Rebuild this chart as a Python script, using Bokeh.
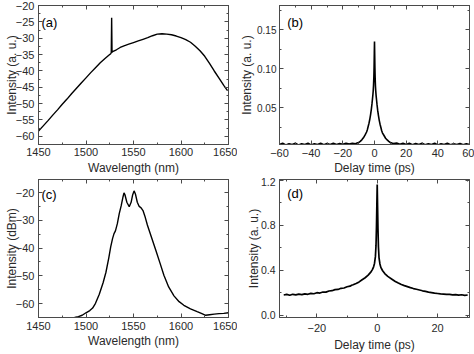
from bokeh.plotting import figure
from bokeh.models import (LinearAxis, SingleIntervalTicker, Range1d, Label,
                          PrintfTickFormatter, CustomLabelingPolicy)
from bokeh.layouts import gridplot
from bokeh.embed import file_html
from bokeh.resources import INLINE

FONT = "Liberation Sans"
AX_COL = "#4a4a4a"
TXT_COL = "#2a2a2a"

# ---------------- data ----------------
# (a) broadband spectrum with narrow spike
wl_a = [1450, 1455, 1460, 1465, 1470, 1475, 1480, 1485, 1490, 1495, 1500,
        1505, 1510, 1515, 1520, 1524, 1526, 1526.6, 1527, 1527.4, 1528, 1532,
        1536, 1540, 1545, 1550, 1555, 1560, 1565, 1570, 1575, 1580, 1585,
        1590, 1595, 1600, 1605, 1610, 1615, 1620, 1625, 1630, 1635, 1640,
        1645, 1648, 1649]
int_a = [-58.4, -56.8, -55.2, -53.5, -51.9, -50.2, -48.6, -46.9, -45.3, -43.7,
         -42.1, -40.5, -39.0, -37.5, -36.2, -35.2, -34.7, -34.4, -23.7, -34.3,
         -34.1, -33.5, -32.8, -32.3, -31.8, -31.3, -30.8, -30.3, -29.8, -29.2,
         -28.7, -28.6, -28.7, -28.9, -29.3, -29.8, -30.4, -31.2, -32.4, -33.8,
         -35.5, -37.7, -40.0, -42.2, -44.4, -45.6, -46.0]

# (b) autocorrelation trace
t_b = [-60, -58, -56, -54, -52, -50, -48, -46, -44, -42, -40, -38, -36, -34,
       -32, -30, -28, -26, -24, -22, -20, -18, -16, -14, -12, -11, -10, -9,
       -8, -7, -6, -5, -4.5, -4, -3.5, -3, -2.5, -2, -1.6, -1.3, -1.0, -0.8,
       -0.6, -0.4, -0.25, -0.12, 0, 0.12, 0.25, 0.4, 0.6, 0.8, 1.0, 1.3, 1.6,
       2, 2.5, 3, 3.5, 4, 4.5, 5, 6, 7, 8, 9, 10, 11, 12, 14, 16, 18, 20, 22,
       24, 26, 28, 30, 32, 34, 36, 38, 40, 42, 44, 46, 48, 50, 52, 54, 56, 58,
       60]
int_b = [0.003, 0.0045, 0.0025, 0.004, 0.003, 0.0045, 0.0025, 0.004, 0.003,
         0.0045, 0.0025, 0.004, 0.003, 0.0045, 0.0028, 0.0042, 0.003, 0.0046,
         0.0031, 0.0044, 0.0033, 0.0047, 0.0035, 0.0045, 0.004, 0.0048,
         0.0055, 0.007, 0.009, 0.0115, 0.015, 0.019, 0.022, 0.026, 0.030,
         0.035, 0.041, 0.048, 0.055, 0.061, 0.067, 0.072, 0.079, 0.090, 0.103,
         0.120, 0.135, 0.119, 0.102, 0.089, 0.078, 0.071, 0.066, 0.060, 0.054,
         0.047, 0.040, 0.034, 0.029, 0.025, 0.021, 0.018, 0.0145, 0.011,
         0.0088, 0.007, 0.0056, 0.0048, 0.0042, 0.0048, 0.0034, 0.0046, 0.003,
         0.0045, 0.0028, 0.0044, 0.003, 0.0045, 0.0026, 0.004, 0.003, 0.0045,
         0.0025, 0.004, 0.003, 0.0045, 0.0027, 0.004, 0.003, 0.0044, 0.0026,
         0.004, 0.003]

# (c) output spectrum
wl_c = [1450, 1470, 1480, 1488, 1492, 1496, 1500, 1504, 1507, 1510, 1514,
        1518, 1521, 1524, 1526, 1528, 1529.5, 1531, 1533, 1535, 1537, 1539,
        1540, 1541, 1543, 1545.5, 1547.5, 1549, 1550.6, 1552, 1554, 1556,
        1558, 1560, 1562, 1564.6, 1569, 1573.4, 1578, 1582, 1587, 1592.6,
        1598, 1603, 1610, 1617, 1622, 1626, 1630, 1635, 1640, 1645, 1650]
int_c = [-65.5, -65.3, -65.2, -65.0, -64.7, -64.2, -63.3, -62.5, -61.6, -59.9,
         -56.6, -52.5, -48.7, -43.5, -39.6, -36.5, -34.8, -33.8, -31.2, -27.6,
         -24.8, -21.5, -20.1, -20.8, -23.5, -25.1, -23.5, -21.0, -19.4, -20.5,
         -23.5, -25.0, -25.5, -26.5, -28.5, -31.7, -36.2, -40.7, -45.5, -49.8,
         -54.0, -57.2, -59.3, -60.6, -61.9, -62.9, -63.6, -64.2, -64.0, -63.8,
         -63.6, -63.5, -63.3]

# (d) autocorrelation trace with pedestal
t_d = [-31, -30, -29, -28, -27, -26, -25, -24, -23, -22, -21, -20, -19, -18,
       -17, -16, -15, -14, -13, -12, -11, -10, -9, -8.5, -8, -7, -6, -5, -4,
       -3, -2.2, -1.6, -1.2, -0.9, -0.6, -0.4, -0.25, -0.12, 0, 0.12, 0.25,
       0.4, 0.6, 0.9, 1.2, 1.8, 2.5, 3.5, 5, 6, 7, 8, 9, 10, 11, 12, 13, 14,
       15, 16, 17, 18, 19, 20, 21, 22, 23, 24, 25, 26, 27, 28, 29, 30]
int_d = [0.180, 0.185, 0.177, 0.186, 0.181, 0.188, 0.183, 0.190, 0.186, 0.194,
         0.191, 0.200, 0.197, 0.206, 0.205, 0.215, 0.218, 0.227, 0.229, 0.239,
         0.242, 0.253, 0.258, 0.266, 0.271, 0.282, 0.296, 0.315, 0.333, 0.356,
         0.380, 0.405, 0.430, 0.460, 0.520, 0.620, 0.780, 0.980, 1.160, 0.970,
         0.770, 0.610, 0.510, 0.455, 0.425, 0.395, 0.370, 0.345, 0.318, 0.300,
         0.286, 0.273, 0.263, 0.254, 0.245, 0.237, 0.231, 0.224, 0.217, 0.212,
         0.205, 0.201, 0.196, 0.193, 0.189, 0.188, 0.185, 0.185, 0.181, 0.183,
         0.178, 0.182, 0.176, 0.180]

xlabels = ["Wavelength (nm)", "Delay time (ps)", "Wavelength (nm)",
           "Delay time (ps)"]
ylabels = ["Intensity (a. u.)", "Intensity (a. u.)", "Intensity (dBm)",
           "Intensity (a. u.)"]
panel_tags = ["(a)", "(b)", "(c)", "(d)"]

W, H = 237, 177


def style_axis(ax, ticker, show_labels=True, size="11px", standoff=4):
    ax.ticker = ticker
    ax.axis_line_color = AX_COL
    ax.major_tick_line_color = AX_COL
    ax.minor_tick_line_color = AX_COL
    ax.major_tick_in = 4
    ax.major_tick_out = 0
    ax.minor_tick_in = 2
    ax.minor_tick_out = 0
    ax.major_label_text_font = FONT
    ax.major_label_text_color = TXT_COL
    ax.axis_label_text_font = FONT
    ax.axis_label_text_color = TXT_COL
    ax.axis_label_text_font_style = "normal"
    ax.axis_label_text_font_size = "12px"
    if show_labels:
        ax.major_label_text_font_size = size
        ax.major_label_standoff = standoff
    else:
        ax.major_label_policy = CustomLabelingPolicy(
            code="for (const i of Array.from(indices)) { indices.unset(i) } return indices")
        ax.major_label_text_font_size = "0px"
        ax.major_label_standoff = 0


def panel(xs, ys, xr, yr, xint, yint, xlab, ylab, frame, tag, tag_px,
          yfmt=None, ysize="11px", ytick_st=4, ystand=-6,
          xtick_st=3, xstand=2, lw=1.4):
    L, R, T, B = frame
    x0, x1 = xr
    y0, y1 = yr

    def dx(px):
        return x0 + (px - L) / (R - L) * (x1 - x0)

    def dy(py):
        return y1 - (py - T) / (B - T) * (y1 - y0)

    p = figure(width=W, height=H, x_range=Range1d(x0, x1),
               y_range=Range1d(y0, y1), output_backend="svg",
               toolbar_location=None, min_border_left=L,
               min_border_right=W - R, min_border_top=T,
               min_border_bottom=H - B, x_axis_label=xlab,
               y_axis_label=ylab)
    p.grid.visible = False
    p.outline_line_color = AX_COL
    p.background_fill_color = "white"
    p.border_fill_color = "white"
    style_axis(p.xaxis[0], SingleIntervalTicker(interval=xint, num_minor_ticks=2),
               True, "11px", xtick_st)
    style_axis(p.yaxis[0], SingleIntervalTicker(interval=yint, num_minor_ticks=2),
               True, ysize, ytick_st)
    p.yaxis[0].axis_label_standoff = ystand
    p.xaxis[0].axis_label_standoff = xstand
    if yfmt:
        p.yaxis[0].formatter = PrintfTickFormatter(format=yfmt)
    top_ax = LinearAxis()
    style_axis(top_ax, SingleIntervalTicker(interval=xint, num_minor_ticks=2), False)
    right_ax = LinearAxis()
    style_axis(right_ax, SingleIntervalTicker(interval=yint, num_minor_ticks=2), False)
    p.add_layout(top_ax, "above")
    p.add_layout(right_ax, "right")
    p.line(xs, ys, line_color="black", line_width=lw)
    p.add_layout(Label(x=dx(tag_px[0]), y=dy(tag_px[1]), text=tag,
                       text_font=FONT, text_font_size="13px",
                       text_color="black", text_baseline="middle"))
    return p


pa = panel(wl_a, int_a, (1450, 1650), (-62.5, -19.95), 50, 5, xlabels[0],
           ylabels[0], (38, 228, 4, 151), panel_tags[0], (41, 22.5))
pb = panel(t_b, int_b, (-60, 60), (0.003, 0.181), 20, 0.05, xlabels[1],
           ylabels[1], (35, 232, 5, 150), panel_tags[1], (43, 22.5), "%.2f",
           ysize="10px", ytick_st=3, ystand=0, xtick_st=4, xstand=1, lw=1.6)
pc = panel(wl_c, int_c, (1450, 1650), (-65, -15.3), 50, 10, xlabels[2],
           ylabels[2], (38, 228, 2, 148), panel_tags[2], (41, 18),
           xtick_st=4, xstand=1)
pd = panel(t_d, int_d, (-32.4, 30.6), (-0.02, 1.205), 20, 0.4, xlabels[3],
           ylabels[3], (35, 232, 2, 147), panel_tags[3], (43, 16.5), "%.1f",
           ysize="10.5px", ytick_st=4, ystand=-3, xtick_st=6, xstand=3,
           lw=1.7)

grid = gridplot([[pa, pb], [pc, pd]], toolbar_location=None)
open("out.html", "w").write(file_html(grid, INLINE))
